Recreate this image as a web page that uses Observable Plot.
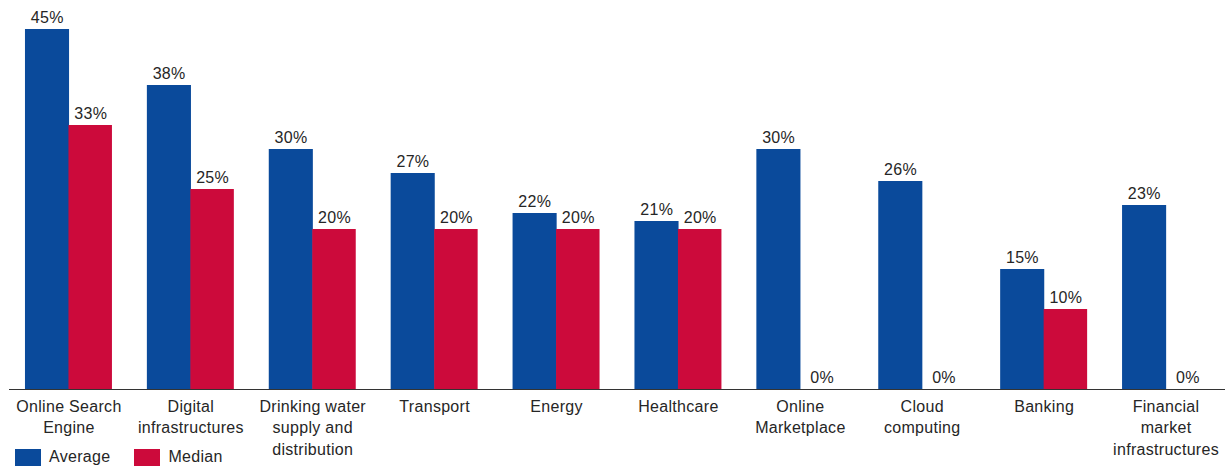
<!DOCTYPE html>
<html><head><meta charset="utf-8">
<script src="https://cdn.jsdelivr.net/npm/d3@7"></script>
<script src="https://cdn.jsdelivr.net/npm/@observablehq/plot@0.6"></script>
<style>
body{margin:0;background:#fff;}
#chart{position:relative;width:1225px;height:473px;font-family:"Liberation Sans",Arial,sans-serif;color:#262626;}
#legend{position:absolute;left:15px;top:448px;}
.lg-swatches{font-family:"Liberation Sans",Arial,sans-serif !important;font-size:16px !important;letter-spacing:0.3px;margin:0 !important;min-height:0 !important;color:#262626;}
.lg-swatch{margin-right:24px !important;}
.lg-swatch > svg{margin-right:8px !important;}
</style></head>
<body><div id="chart"><div id="legend"></div></div>
<script>
const categories = ["Online Search Engine","Digital infrastructures","Drinking water supply and distribution","Transport","Energy","Healthcare","Online Marketplace","Cloud computing","Banking","Financial market infrastructures"];
const tickLabels = ["Online Search\nEngine","Digital\ninfrastructures","Drinking water\nsupply and\ndistribution","Transport","Energy","Healthcare","Online\nMarketplace","Cloud\ncomputing","Banking","Financial\nmarket\ninfrastructures"];
const average = [45,38,30,27,22,21,30,26,15,23];
const median = [33,25,20,20,20,20,0,0,10,0];
const seriesNames = ["Average","Median"];
const seriesColors = ["#0a4a9b","#cc0a3b"];

const rows = categories.flatMap((c,i)=>[
  {category:c, series:"Average", value:average[i]},
  {category:c, series:"Median", value:median[i]}
]);
const avgRows = rows.filter(d=>d.series==="Average");
const medRows = rows.filter(d=>d.series==="Median");

const W=1225, H=473, mL=9, mR=0, padIn=0.2865, padOut=0.131;
const step = (W-mL-mR)/(categories.length - padIn + 2*padOut);
const half = step*(1-padIn)/2;
const txt = "#262626";

const plot = Plot.plot({
  width: W, height: H,
  marginLeft: mL, marginRight: mR, marginTop: 29, marginBottom: 84,
  style: {fontFamily: '"Liberation Sans", Arial, sans-serif', fontSize: "16px", letterSpacing: "0.3px", color: txt, background: "#fff"},
  x: {domain: categories, paddingInner: padIn, paddingOuter: padOut, round: false, axis: null},
  y: {domain: [0,45], axis: null},
  color: {domain: seriesNames, range: seriesColors},
  marks: [
    Plot.barY(avgRows, {x:"category", y:"value", fill:"series", insetRight: half - 0.6}),
    Plot.barY(medRows, {x:"category", y:"value", fill:"series", insetLeft: half}),
    Plot.text(avgRows, {x:"category", y:"value", text:d=>d.value+"%", dx:-half/2, dy:-7, lineAnchor:"bottom", fill:txt}),
    Plot.text(medRows, {x:"category", y:"value", text:d=>d.value+"%", dx:half/2, dy:-7, lineAnchor:"bottom", fill:txt}),
    Plot.ruleY([0], {stroke:"#333", strokeWidth:1.2}),
    Plot.axisX({tickSize:0, tickPadding:7, label:null, lineHeight:1.35, fill:txt,
      tickFormat: d=>tickLabels[categories.indexOf(d)]})
  ]
});
document.getElementById("chart").prepend(plot);
document.getElementById("legend").append(plot.legend("color", {legend:"swatches", swatchWidth:26, swatchHeight:17, className:"lg"}));
</script>
</body></html>
